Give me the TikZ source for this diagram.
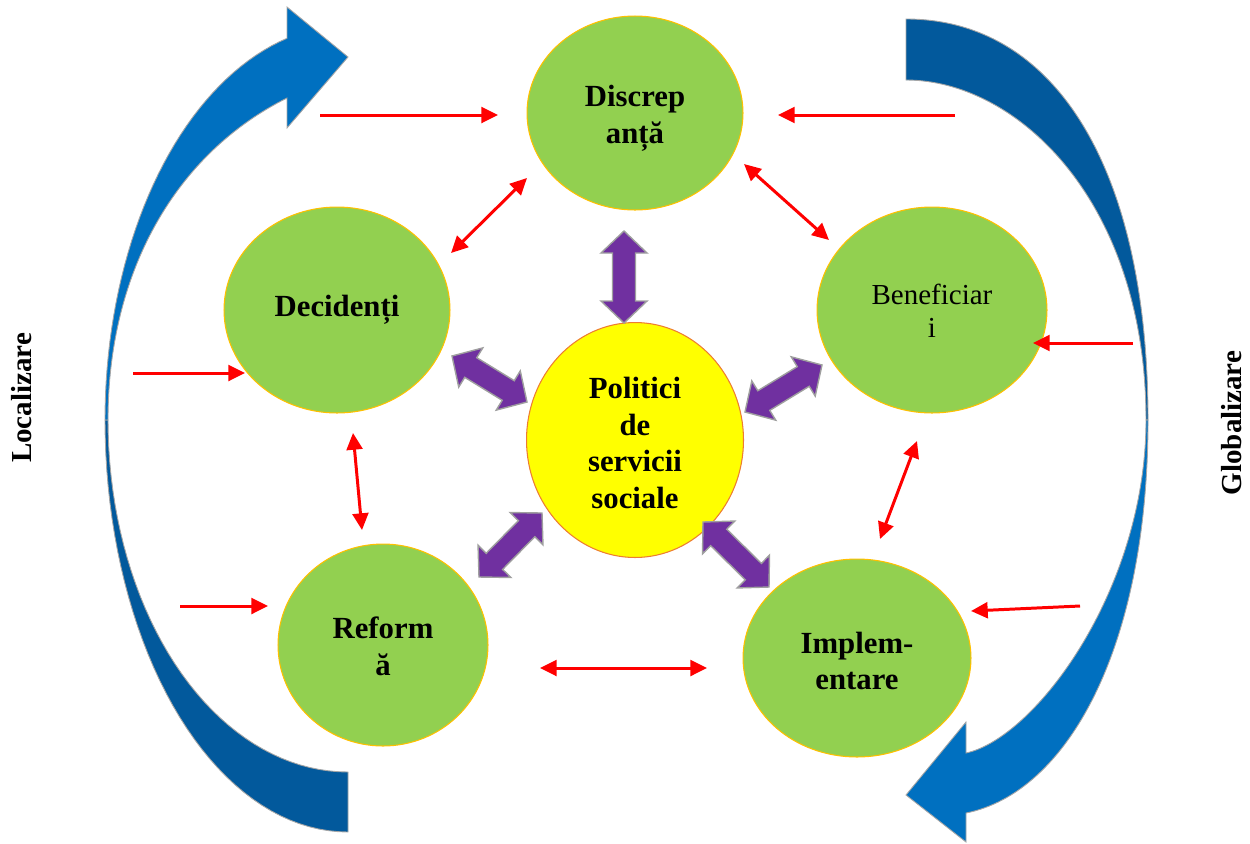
\documentclass[tikz,border=0pt]{standalone}
\usepackage{fontspec}
\setmainfont{Liberation Serif}
\usetikzlibrary{shapes.geometric,arrows.meta,calc}
\definecolor{leaf}{HTML}{92D050}
\definecolor{gold}{HTML}{FFC000}
\definecolor{sun}{HTML}{FFFF00}
\definecolor{rim}{HTML}{ED7D31}
\definecolor{purp}{HTML}{7030A0}
\definecolor{lblue}{HTML}{0070C0}
\definecolor{dblue}{HTML}{02599C}
\newcommand\blockarrow[2]{%
  \coordinate (ba1) at ($(#1)!0.44cm!(#2)$);
  \coordinate (ba2) at ($(#2)!0.44cm!(#1)$);
  \draw[purparrow] (#1) -- ($(ba1)!0.46cm!90:(#2)$) -- ($(ba1)!0.23cm!90:(#2)$)
    -- ($(ba2)!0.23cm!-90:(#1)$) -- ($(ba2)!0.46cm!-90:(#1)$) -- (#2)
    -- ($(ba2)!0.46cm!90:(#1)$) -- ($(ba2)!0.23cm!90:(#1)$)
    -- ($(ba1)!0.23cm!-90:(#2)$) -- ($(ba1)!0.46cm!-90:(#2)$) -- cycle;}
\begin{document}
\begin{tikzpicture}[x=0.02cm,y=-0.02cm,
  greenell/.style={ellipse, draw=gold, fill=leaf, line width=0.6pt, inner sep=0pt},
  yellowell/.style={ellipse, draw=rim, fill=sun, line width=0.6pt, inner sep=0pt},
  bt/.style={font=\fontsize{17.5}{21}\selectfont\bfseries, align=center, inner sep=0pt},
  rt/.style={font=\fontsize{16.5}{18.5}\selectfont, align=center, inner sep=0pt},
  lab/.style={font=\fontsize{16.5}{20}\selectfont\bfseries, inner sep=0pt, rotate=90},
  bluepart/.style={draw=gray!70, line width=0.5pt},
  purparrow/.style={draw=gray!75, fill=purp, line width=0.8pt, line join=miter},
  redone/.style={red, line width=1.7pt, -{Triangle[length=9.5pt,width=9pt]}},
  redtwo/.style={red, line width=1.7pt, {Triangle[length=9.5pt,width=9pt]}-{Triangle[length=9.5pt,width=9pt]}}]
\useasboundingbox (0,0) rectangle (1250,843);

% left curved arrow (Localizare)
\filldraw[bluepart, fill=dblue] plot[domain=180:90, samples=40] ({348+243*cos(\x)},{420+412*sin(\x)})
  -- plot[domain=90:180, samples=40] ({348+240*cos(\x)},{420+352*sin(\x)}) -- cycle;
\filldraw[bluepart, fill=lblue] plot[domain=180:255.1, samples=40] ({350+245*cos(\x)},{420+395*sin(\x)})
  -- (287,7) -- (348,57) -- (287,128) -- (287,98)
  .. controls (177,153) and (108,270) .. (108,420) -- cycle;

% right curved arrow (Globalizare)
\filldraw[bluepart, fill=dblue] (906,19) .. controls (1056,19) and (1148,170) .. (1148,420)
  -- (1146,420) .. controls (1146,200) and (1016,80) .. (906,80) -- cycle;
\filldraw[bluepart, fill=lblue] (1148,420) .. controls (1148,650) and (1066,793) .. (966,813)
  -- (966,842) -- (906,795) -- (966,722) -- (966,753)
  .. controls (1035,738) and (1146,590) .. (1146,420) -- cycle;

% ellipses
\node[greenell, minimum width=4.32cm, minimum height=3.88cm] (disc) at (635,113) {};
\node[greenell, minimum width=4.52cm, minimum height=4.12cm] (dec) at (337,310) {};
\node[greenell, minimum width=4.6cm, minimum height=4.12cm] (ben) at (932,310) {};
\node[yellowell, minimum width=4.34cm, minimum height=4.7cm] (pol) at (635,440) {};
\node[greenell, minimum width=4.2cm, minimum height=4.04cm] (ref) at (383,645) {};
\node[greenell, minimum width=4.56cm, minimum height=3.96cm] (imp) at (857,658) {};

% texts
\node[bt] (tdisc) at (635,118) {Discrep\\anță};
\node[bt] (tdec) at (337,310) {Decidenți};
\node[rt] (tben) at (932,311) {Beneficiar\\i};
\node[bt] (tpol) at (635,443) {Politici\\de\\servicii\\sociale};
\node[bt] (tref) at (383,646) {Reform\\ă};
\node[bt] (timp) at (857,661) {Implem-\\entare};
\node[lab] (loc) at (22,398) {Localizare};
\node[lab] (glob) at (1232,423) {Globalizare};

% purple block arrows
\coordinate (pt1) at (624,231); \coordinate (pt2) at (624,323);
\coordinate (pul1) at (452,356); \coordinate (pul2) at (527,402);
\coordinate (pur1) at (822,365); \coordinate (pur2) at (745,412);
\coordinate (pll1) at (479,577); \coordinate (pll2) at (542,513);
\coordinate (plr1) at (703,522); \coordinate (plr2) at (769,587);
\blockarrow{pt1}{pt2}
\blockarrow{pul1}{pul2}
\blockarrow{pur1}{pur2}
\blockarrow{pll1}{pll2}
\blockarrow{plr1}{plr2}

% red arrows
\coordinate (a1) at (320,115); \coordinate (b1) at (498,115);
\coordinate (a2) at (955,115); \coordinate (b2) at (778,115);
\coordinate (a3) at (451,253); \coordinate (b3) at (527,178);
\coordinate (a4) at (744,164); \coordinate (b4) at (829,240);
\coordinate (a5) at (133,373); \coordinate (b5) at (245,373);
\coordinate (a6) at (1133,343); \coordinate (b6) at (1033,343);
\coordinate (a7) at (353,433); \coordinate (b7) at (362,530);
\coordinate (a8) at (917,441); \coordinate (b8) at (880,539);
\coordinate (a9) at (180,606); \coordinate (b9) at (268,606);
\coordinate (a10) at (1080,606); \coordinate (b10) at (971,611);
\coordinate (a11) at (540,668); \coordinate (b11) at (707,668);
\draw[redone] (a1) -- (b1);
\draw[redone] (a2) -- (b2);
\draw[redtwo] (a3) -- (b3);
\draw[redtwo] (a4) -- (b4);
\draw[redone] (a5) -- (b5);
\draw[redone] (a6) -- (b6);
\draw[redtwo] (a7) -- (b7);
\draw[redtwo] (a8) -- (b8);
\draw[redone] (a9) -- (b9);
\draw[redone] (a10) -- (b10);
\draw[redtwo] (a11) -- (b11);
\end{tikzpicture}
\end{document}
